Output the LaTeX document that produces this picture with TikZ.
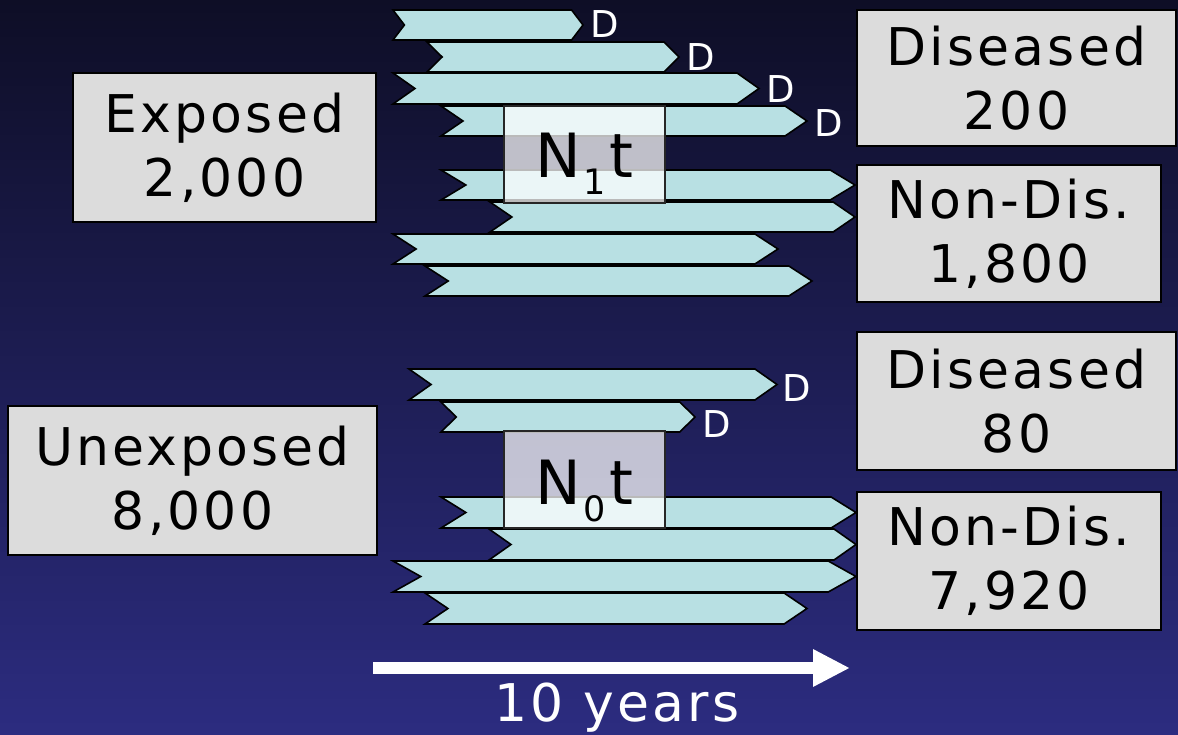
\documentclass[tikz,border=0pt]{standalone}
\usepackage{fontspec}
\setmainfont{DejaVu Sans}[LetterSpace=6]
\usetikzlibrary{arrows.meta}
\definecolor{chevfill}{RGB}{184,224,227}
\definecolor{boxfill}{RGB}{220,220,220}
\definecolor{bgtop}{RGB}{14,14,38}
\definecolor{bgbot}{RGB}{44,44,128}
\tikzset{
  chevron/.style={draw=black, line width=1.6pt, fill=chevfill, line join=miter},
  box/.style={draw=black, line width=1.5pt, fill=boxfill, text=black, align=center, inner sep=0pt,
    font=\fontsize{52}{64}\selectfont},
  ntbox/.style={draw=black!85, line width=1.2pt, fill=white, fill opacity=0.73, text opacity=1,
    text=black, inner sep=0pt, font=\fontsize{61}{61}\selectfont},
  dlab/.style={text=white, inner sep=0pt, anchor=base, font=\fontsize{37}{37}\selectfont},
  timearrow/.style={white, line width=12pt, -{Triangle[length=37pt,width=35pt]}},
  timelab/.style={text=white, inner sep=0pt, anchor=base, font=\fontsize{52}{52}\selectfont}
}
\newcommand\chev[4]{%
  \pgfmathsetmacro\chevD{0.06*(#2-#1)}%
  \pgfmathsetmacro\chevM{(#3+#4)/2}%
  \draw[chevron] (#1,#3) -- ({#2-\chevD},#3) -- (#2,\chevM) -- ({#2-\chevD},#4) -- (#1,#4) -- ({#1+\chevD},\chevM) -- cycle;}
\newcommand\ptsub[1]{\hspace{3pt}\raisebox{-17pt}{\fontsize{35}{35}\selectfont #1}\hspace{4pt}}
\begin{document}
\begin{tikzpicture}[x=1pt,y=-1pt]
\shade[top color=bgtop, bottom color=bgbot] (0,0) rectangle (1178,735);
\useasboundingbox (0,0) rectangle (1178,735);

% exposed group chevrons
\chev{393}{583}{10}{40}
\chev{427}{679}{42}{72}
\chev{393}{759}{73}{104}
\chev{441}{807}{106}{136}
\chev{441}{855}{170}{200}
\chev{490}{855}{202}{232}
\chev{393}{778}{234}{264}
\chev{425}{812}{266}{296}

% unexposed group chevrons
\chev{409}{777}{369}{400}
\chev{441}{695}{402}{432}
\chev{441}{856}{497}{528}
\chev{489}{856}{529}{560}
\chev{393}{856}{561}{592}
\chev{425}{807}{593}{624}

% D labels
\node[dlab] (d1) at (605,38) {D};
\node[dlab] (d2) at (701,71) {D};
\node[dlab] (d3) at (781,103) {D};
\node[dlab] (d4) at (829,137) {D};
\node[dlab] (d5) at (797,401) {D};
\node[dlab] (d6) at (717,437) {D};

% person-time boxes
\node[ntbox, minimum width=161pt, minimum height=97pt, text height=72pt, text depth=25pt] (n1) at (584.5,154.5)
  {N\ptsub{1}t};
\node[ntbox, minimum width=161pt, minimum height=97pt, text height=73pt, text depth=24pt] (n0) at (584.5,479.5)
  {N\ptsub{0}t};

% population boxes
\node[box, minimum width=303pt, minimum height=149pt] (exp) at (224.5,147.5) {Exposed\\2,000};
\node[box, minimum width=369pt, minimum height=149pt] (unexp) at (192.5,480.5) {Unexposed\\8,000};
\node[box, minimum width=319pt, minimum height=136pt] (dis1) at (1016.5,78) {Diseased\\200};
\node[box, minimum width=304pt, minimum height=137pt] (non1) at (1009,233.5) {Non-Dis.\\1,800};
\node[box, minimum width=319pt, minimum height=138pt] (dis0) at (1016.5,401) {Diseased\\80};
\node[box, minimum width=304pt, minimum height=138pt] (non0) at (1009,561) {Non-Dis.\\7,920};

% time arrow
\coordinate (ts) at (373,668);
\coordinate (te) at (850,668);
\draw[timearrow] (ts) -- (te);
\node[timelab] (yrs) at (617,721) {10 years};
\end{tikzpicture}
\end{document}
